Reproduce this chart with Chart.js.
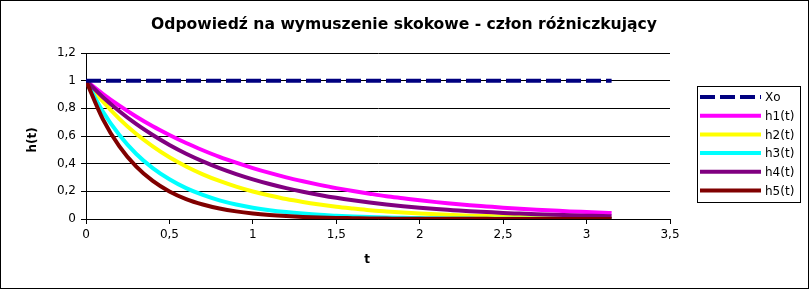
<!DOCTYPE html>
<html>
<head>
<meta charset="utf-8">
<script src="https://cdn.jsdelivr.net/npm/chart.js@4.4.1/dist/chart.umd.min.js"></script>
<style>
  html, body { margin:0; padding:0; background:#fff; }
  #wrap { width:809px; height:289px; }
</style>
</head>
<body>
<div id="wrap"><canvas id="chart" width="809" height="289"></canvas></div>
<script>
// Data
const tValues = [0,0.1,0.2,0.3,0.4,0.5,0.6,0.7,0.8,0.9,1,1.1,1.2,1.3,1.4,1.5,1.6,1.7,1.8,1.9,2,2.1,2.2,2.3,2.4,2.5,2.6,2.7,2.8,2.9,3,3.1,3.15];
const xo = [1,1,1,1,1,1,1,1,1,1,1,1,1,1,1,1,1,1,1,1,1,1,1,1,1,1,1,1,1,1,1,1,1];
const h1 = [1,0.905,0.819,0.741,0.670,0.607,0.549,0.497,0.449,0.407,0.368,0.333,0.301,0.273,0.247,0.223,0.202,0.183,0.165,0.150,0.135,0.122,0.111,0.100,0.091,0.082,0.074,0.067,0.061,0.055,0.050,0.045,0.043];
const h2 = [1,0.851,0.724,0.616,0.525,0.446,0.380,0.323,0.275,0.234,0.199,0.170,0.144,0.123,0.105,0.089,0.076,0.064,0.055,0.047,0.040,0.034,0.029,0.024,0.021,0.018,0.015,0.013,0.011,0.009,0.008,0.007,0.006];
const h3 = [1,0.779,0.607,0.472,0.368,0.287,0.223,0.174,0.135,0.105,0.082,0.064,0.050,0.039,0.030,0.024,0.018,0.014,0.011,0.009,0.007,0.005,0.004,0.003,0.002,0.002,0.002,0.001,0.001,0.001,0.001,0,0];
const h4 = [1,0.882,0.779,0.687,0.607,0.535,0.472,0.417,0.368,0.325,0.287,0.253,0.223,0.197,0.174,0.153,0.135,0.119,0.105,0.093,0.082,0.072,0.064,0.056,0.050,0.044,0.039,0.034,0.030,0.027,0.024,0.021,0.020];
const h5 = [1,0.724,0.525,0.380,0.275,0.199,0.144,0.105,0.076,0.055,0.040,0.029,0.021,0.015,0.011,0.008,0.006,0.004,0.003,0.002,0.002,0.001,0.001,0.001,0.001,0,0,0,0,0,0,0,0];

const seriesNames = ['Xo','h1(t)','h2(t)','h3(t)','h4(t)','h5(t)'];
const seriesValues = [xo,h1,h2,h3,h4,h5];
const seriesColors = ['#000080','#ff00ff','#ffff00','#00ffff','#800080','#800000'];

const FONT = '"DejaVu Sans", Verdana, sans-serif';
const comma = v => String(Number(v.toFixed(2))).replace('.', ',');

const datasets = seriesValues.map((vals, i) => ({
  label: seriesNames[i],
  data: vals.map((y, k) => ({x: tValues[k], y})),
  borderColor: seriesColors[i],
  backgroundColor: seriesColors[i],
  borderWidth: 4,
  borderDash: i === 0 ? [15,5] : [],
  borderCapStyle: 'butt',
  pointRadius: 0,
  cubicInterpolationMode: 'monotone',
  fill: false,
  order: i === 0 ? 0 : 6 - i
}));

// frame, title, axis titles and legend box
const decor = {
  id: 'decor',
  beforeDraw(chart){
    const c = chart.ctx;
    c.save();
    c.fillStyle = '#fff';
    c.fillRect(0,0,chart.width,chart.height);
    c.restore();
  },
  afterDraw(chart){
    const c = chart.ctx;
    c.save();
    c.strokeStyle = '#000';
    c.lineWidth = 1;
    c.strokeRect(0.5,0.5,chart.width-1,chart.height-1);

    c.fillStyle = '#000';
    c.textAlign = 'center';
    c.textBaseline = 'middle';
    c.font = 'bold 15.6px ' + FONT;
    c.fillText('Odpowiedź na wymuszenie skokowe - człon różniczkujący', 404, 25);

    c.font = 'bold 12px ' + FONT;
    c.fillText('t', 367, 260);
    c.save();
    c.translate(33, 140);
    c.rotate(-Math.PI/2);
    c.fillText('h(t)', 0, 0);
    c.restore();

    // legend
    c.strokeRect(697.5, 86.5, 103, 116);
    c.font = '12px ' + FONT;
    c.textAlign = 'left';
    seriesNames.forEach((name, i) => {
      const y = 97 + i*18.7;
      c.beginPath();
      c.strokeStyle = seriesColors[i];
      c.lineWidth = 4;
      c.setLineDash(i === 0 ? [15,5] : []);
      c.moveTo(700, y);
      c.lineTo(761, y);
      c.stroke();
      c.setLineDash([]);
      c.fillStyle = '#000';
      c.fillText(name, 765, y + 1);
    });
    c.restore();
  }
};

new Chart(document.getElementById('chart'), {
  type: 'line',
  data: { datasets },
  options: {
    responsive: false,
    animation: false,
    layout: { padding: { top: 53, right: 139, left: 0, bottom: 0 } },
    plugins: { legend: { display: false }, title: { display: false }, tooltip: { enabled: false } },
    scales: {
      x: {
        type: 'linear', min: 0, max: 3.5,
        afterFit(scale){ scale.height = 70; },
        ticks: { stepSize: 0.5, color: '#000', padding: 4, font: { family: FONT, size: 12 }, callback: v => comma(v), maxRotation: 0 },
        grid: { drawOnChartArea: false, drawTicks: true, tickLength: 5, color: '#000' },
        border: { display: true, color: '#000' }
      },
      y: {
        min: 0, max: 1.2,
        afterFit(scale){ scale.width = 86; },
        ticks: { stepSize: 0.2, color: '#000', padding: 5, font: { family: FONT, size: 12 }, callback: v => comma(v) },
        grid: { color: '#000', tickLength: 5, drawTicks: true },
        border: { display: true, color: '#000' }
      }
    }
  },
  plugins: [decor]
});
</script>
</body>
</html>
